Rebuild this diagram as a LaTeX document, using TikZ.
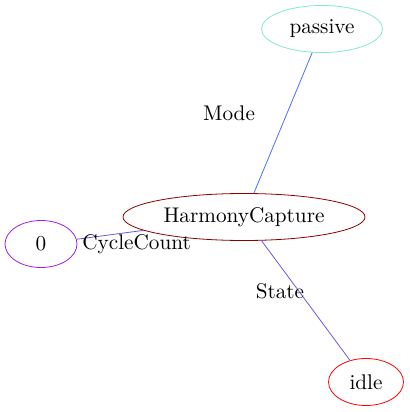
\documentclass[tikz,border=0pt]{standalone}
\usepackage{tikz}
\usetikzlibrary{shapes.geometric}
\definecolor{aqua}{RGB}{127,236,200}
\definecolor{maroon}{RGB}{139,0,0}
\definecolor{violet}{RGB}{160,32,240}
\definecolor{royal}{RGB}{72,110,255}
\definecolor{slate}{RGB}{106,90,220}
\tikzset{
  state/.style={ellipse,draw=#1,thin,inner sep=0pt,minimum height=23.5pt,
    font=\fontsize{10.6}{12}\selectfont},
  state/.default=black,
  link/.style={draw=#1,thin},
  link/.default=slate,
  elabel/.style={font=\fontsize{10.6}{12}\selectfont,inner sep=0pt},
}
\begin{document}
\begin{tikzpicture}[x=0.5pt,y=-0.5pt]
  \useasboundingbox (0,0) rectangle (410,412);
  % nodes
  \node[state=aqua,minimum width=60.5pt] (passive) at (322,29) {passive};
  \node[state=maroon,minimum width=121pt] (harmony) at (244,217) {HarmonyCapture};
  \node[state=violet,minimum width=36pt] (zero) at (41,244) {0};
  \node[state=red,minimum width=37.5pt] (idle) at (366,382) {idle};
  % edges
  \draw[link=royal] (passive) -- (harmony);
  \draw[link] (zero) -- (harmony);
  \draw[link] (harmony) -- (idle);
  % labels
  \node[elabel] (lmode) at (229,113) {Mode};
  \node[elabel,anchor=west] (lcycle) at (82,244) {CycleCount};
  \node[elabel] (lstate) at (280,291) {State};
\end{tikzpicture}
\end{document}
